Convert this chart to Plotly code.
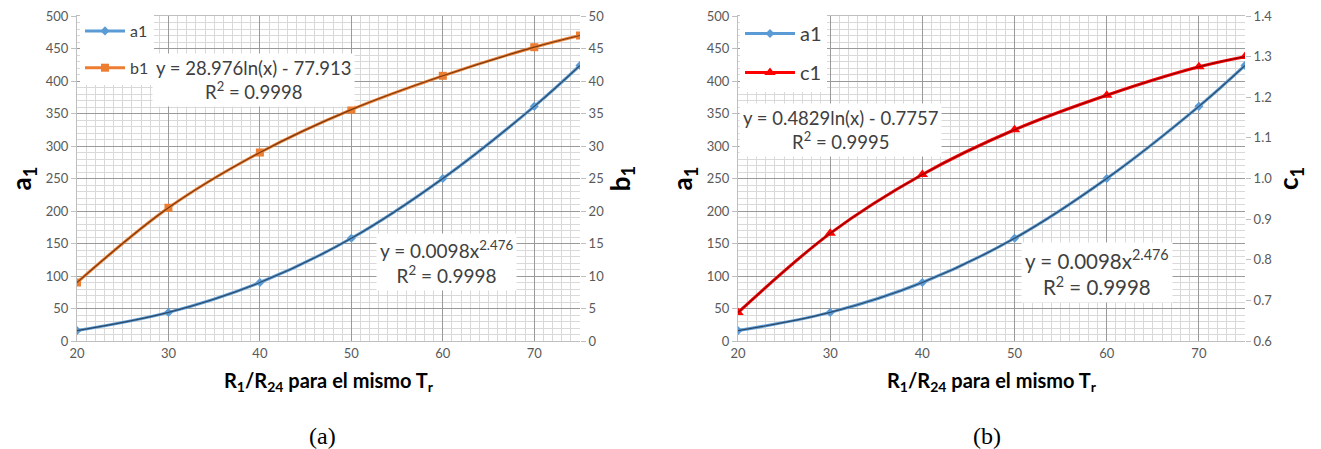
import plotly.graph_objects as go

x_vals = [20, 30, 40, 50, 60, 70, 75]
a1_vals = [16, 44, 90, 158, 250, 361, 424]
b1_vals = [9.0, 20.5, 29.0, 35.6, 40.8, 45.2, 47.0]
c1_vals = [0.67, 0.865, 1.01, 1.12, 1.205, 1.275, 1.30]

eq_b1 = "y = 28.976ln(x) - 77.913<br>R<sup>2</sup> = 0.9998"
eq_a1 = "y = 0.0098x<sup>2.476</sup><br>R<sup>2</sup> = 0.9998"
eq_c1 = "y = 0.4829ln(x) - 0.7757<br>R<sup>2</sup> = 0.9995"

W, H = 1321, 449
BLUE = "#5B9BD5"
ORANGE = "#ED7D31"
RED = "#FF0000"
FAM = "Lato, Open Sans, sans-serif"
TICKF = dict(family=FAM, size=13, color="#595959")
TXT = "#404040"

fig = go.Figure()

def add_series(xa, ya, y, color, dark, symbol, msize, name, legend, width=3):
    fig.add_trace(go.Scatter(x=x_vals, y=y, mode="lines+markers", name=name,
                             line=dict(color=color, width=width, shape="spline"),
                             marker=dict(symbol=symbol, size=msize, color=color),
                             xaxis=xa, yaxis=ya, legend=legend, legendgroup=legend + name))
    fig.add_trace(go.Scatter(x=x_vals, y=y, mode="lines", showlegend=False,
                             line=dict(color=dark, width=1.2, shape="spline"),
                             xaxis=xa, yaxis=ya, hoverinfo="skip"))

add_series("x", "y", a1_vals, BLUE, "#2E4A66", "diamond", 7, "a1", "legend")
add_series("x", "y2", b1_vals, ORANGE, "#7A3A10", "square", 8, "b1", "legend")
add_series("x2", "y3", a1_vals, BLUE, "#2E4A66", "diamond", 7, "a1", "legend2")
add_series("x2", "y4", c1_vals, RED, "#8B0000", "triangle-up", 10, "c1", "legend2")

ydom = [1 - 341 / H, 1 - 16 / H]
xdom1 = [77 / W, 580 / W]
xdom2 = [738 / W, 1245 / W]

def xaxis(dom, anchor):
    return dict(domain=dom, anchor=anchor, range=[20, 75], tick0=20, dtick=10,
                showgrid=True, gridcolor="#9A9A9A", gridwidth=1,
                minor=dict(dtick=1, showgrid=True, gridcolor="#D9D9D9", gridwidth=1),
                showline=True, linecolor="#BFBFBF", mirror=True, ticks="",
                tickfont=TICKF, zeroline=False, automargin=False,
                title=dict(text="<b>R<sub>1</sub>/R<sub>24</sub> para el mismo T<sub>r</sub></b>",
                           font=dict(family=FAM, size=20, color="#000"),
                           standoff=14))

def yleft(anchor):
    return dict(domain=ydom, anchor=anchor, range=[0, 500], dtick=50,
                showgrid=True, gridcolor="#9A9A9A",
                minor=dict(dtick=10, showgrid=True, gridcolor="#D9D9D9"),
                ticks="outside", ticklen=5, tickcolor="#BFBFBF",
                showline=True, linecolor="#BFBFBF", zeroline=False, tickfont=TICKF,
                automargin=False,
                title=dict(text="<b>a<sub>1</sub></b>",
                           font=dict(family=FAM, size=26, color="#000"),
                           standoff=6))

def yright(anchor, overlay, rng, dt, title, fmt=None):
    d = dict(domain=ydom, anchor=anchor, overlaying=overlay, side="right",
             range=rng, dtick=dt, showgrid=False, zeroline=False,
             ticks="outside", ticklen=5, tickcolor="#BFBFBF", tickfont=TICKF,
             automargin=False,
             title=dict(text=title,
                        font=dict(family=FAM, size=26, color="#000"),
                        standoff=8))
    if fmt:
        d["tickformat"] = fmt
    return d

fig.update_layout(
    width=W, height=H, margin=dict(l=0, r=0, t=0, b=0, autoexpand=False),
    paper_bgcolor="white", plot_bgcolor="white",
    xaxis=xaxis(xdom1, "y"),
    xaxis2=xaxis(xdom2, "y3"),
    yaxis=yleft("x"),
    yaxis2=yright("x", "y", [0, 50], 5, "<b>b<sub>1</sub></b>"),
    yaxis3=yleft("x2"),
    yaxis4=yright("x2", "y3", [0.6, 1.4], 0.1, "<b>c<sub>1</sub></b>", ".1f"),
    legend=dict(x=80 / W, y=1 - 14 / H, xanchor="left", yanchor="top",
                bgcolor="white", font=dict(family=FAM, size=16, color=TXT),
                tracegroupgap=13, itemwidth=40),
    legend2=dict(x=740 / W, y=1 - 14 / H, xanchor="left", yanchor="top",
                 bgcolor="white", font=dict(family=FAM, size=20, color=TXT),
                 tracegroupgap=10, itemwidth=50),
    showlegend=True,
)

def eq(x, y, text, size=16):
    fig.add_annotation(x=x / W, y=1 - y / H, xref="paper", yref="paper", text=text,
                       xanchor="center", yanchor="middle",
                       showarrow=False, bgcolor="white", align="center",
                       font=dict(family=FAM, size=size, color=TXT), borderpad=3)

eq(253, 80, eq_b1, 18.5)
eq(447, 262, eq_a1, 19)
eq(840, 130, eq_c1, 18.5)
eq(1097, 272, eq_a1, 20.5)

for cx, lab in [(322, "(a)"), (987, "(b)")]:
    fig.add_annotation(x=cx / W, y=1 - 436 / H, xref="paper", yref="paper", text=lab,
                       xanchor="center", yanchor="middle",
                       showarrow=False, font=dict(family="Liberation Serif, Times New Roman, serif",
                                                  size=24, color="#000"))

fig.write_html("out.html")
